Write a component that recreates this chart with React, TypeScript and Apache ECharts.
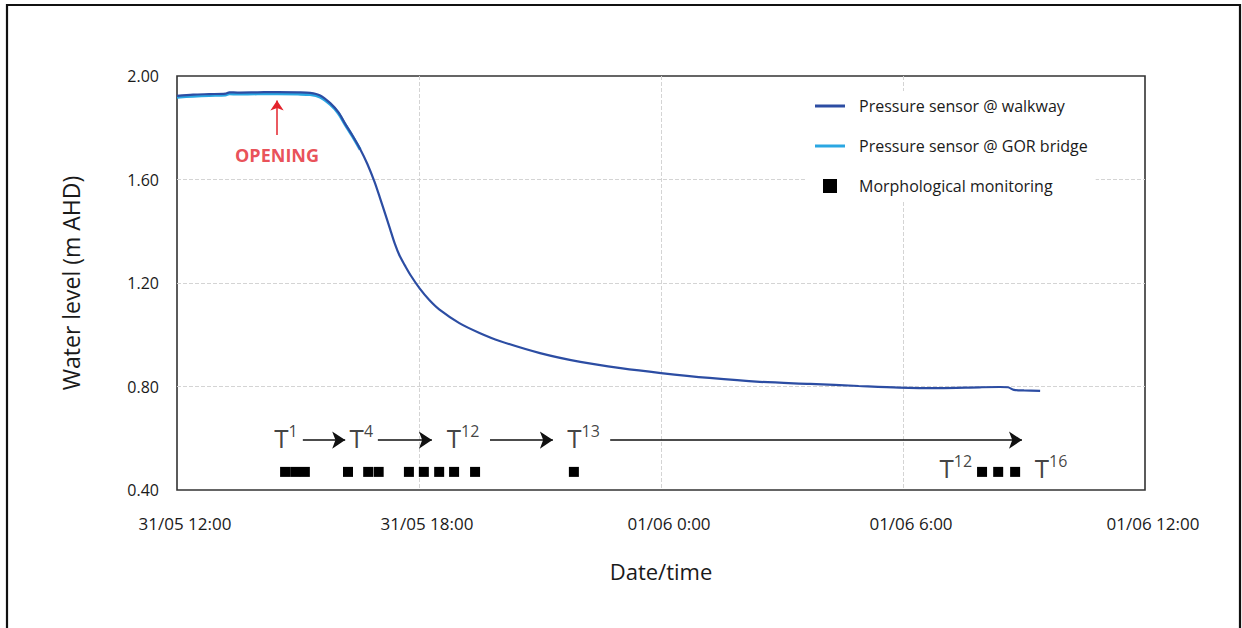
import { useEffect, useRef } from "react";
import * as echarts from "echarts";

// x values are hours after 31/05 12:00
const xTickLabels = ["31/05 12:00", "31/05 18:00", "01/06 0:00", "01/06 6:00", "01/06 12:00"];

const walkTimes = [0, 0.4, 0.8, 1.2, 1.3, 1.5, 2.0, 2.5, 3.0, 3.3, 3.55, 3.8, 4.0, 4.17, 4.35, 4.54, 4.72, 4.9, 5.03, 5.16, 5.28, 5.4, 5.52, 5.65, 5.8, 6.02, 6.25, 6.5, 7.0, 7.5, 8.0, 9.0, 10.0, 11.0, 12.0, 13.2, 14.45, 15.7, 16.9, 17.9, 18.9, 19.9, 20.4, 20.6, 20.75, 21.0, 21.4];
const walkLevels = [1.923, 1.928, 1.93, 1.932, 1.937, 1.936, 1.937, 1.938, 1.937, 1.935, 1.925, 1.895, 1.86, 1.815, 1.77, 1.718, 1.66, 1.59, 1.53, 1.468, 1.41, 1.352, 1.305, 1.268, 1.228, 1.178, 1.135, 1.098, 1.045, 1.007, 0.976, 0.929, 0.895, 0.871, 0.852, 0.833, 0.818, 0.81, 0.802, 0.796, 0.794, 0.797, 0.798, 0.797, 0.787, 0.785, 0.783];

const gorTimes = [0, 0.4, 0.8, 1.2, 1.3, 1.5, 2.0, 2.5, 3.0, 3.3, 3.55, 3.8, 4.0, 4.17, 4.35, 4.54];
const gorLevels = [1.918, 1.922, 1.925, 1.927, 1.931, 1.93, 1.931, 1.931, 1.93, 1.928, 1.918, 1.89, 1.856, 1.812, 1.767, 1.716];

const monitorTimes = [2.68, 2.93, 3.17, 4.24, 4.74, 5.0, 5.75, 6.12, 6.5, 6.87, 7.39, 9.84, 19.96, 20.36, 20.78];
const monitorLevel = 0.47;

const tLabelTimes = [2.7, 4.57, 7.09, 10.08, 19.31, 21.67];
const tLabelLevels = [0.6, 0.6, 0.6, 0.6, 0.485, 0.485];
const tLabelSups = ["1", "4", "12", "13", "12", "16"];

const arrowStarts = [3.12, 4.98, 7.76, 10.74];
const arrowEnds = [4.17, 6.32, 9.32, 20.95];
const arrowLevel = 0.593;

const openingTime = 2.48;
const openingArrowFrom = 1.772;
const openingArrowTo = 1.905;
const openingTextLevel = 1.695;

const FONT = "'Open Sans', 'Noto Sans', sans-serif";

export default function App() {
  const ref = useRef<HTMLDivElement>(null);

  useEffect(() => {
    if (!ref.current) return;
    const chart = echarts.init(ref.current, undefined, { renderer: "svg" });

    const walk = walkTimes.map((t, i) => [t, walkLevels[i]]);
    const gor = gorTimes.map((t, i) => [t, gorLevels[i]]);
    const monitors = monitorTimes.map((t) => [t, monitorLevel]);
    const tLabels = tLabelTimes.map((t, i) => ({ value: [t, tLabelLevels[i]], sup: tLabelSups[i] }));
    const arrows = arrowStarts.map((s, i) => ({ coords: [[s, arrowLevel], [arrowEnds[i], arrowLevel]] }));

    chart.setOption({
      animation: false,
      backgroundColor: "#ffffff",
      textStyle: { fontFamily: FONT },
      graphic: [
        {
          type: "rect",
          shape: { x: 7, y: 5, width: 1233, height: 640 },
          style: { fill: "none", stroke: "#111", lineWidth: 2.2 },
          silent: true,
          z: 100,
        },
      ],
      grid: {
        left: 177,
        right: 97,
        top: 76,
        bottom: 138,
        show: true,
        borderColor: "#333",
        borderWidth: 1.6,
      },
      legend: {
        orient: "vertical",
        left: 807,
        top: 91,
        padding: [7, 8, 7, 8],
        backgroundColor: "#ffffff",
        itemWidth: 30,
        itemHeight: 14,
        itemGap: 24,
        textStyle: { fontSize: 16, color: "#1a1a1a", fontFamily: FONT, padding: [0, 0, 0, 9] },
        data: [
          { name: "Pressure sensor @ walkway", icon: "path://M0 0H10V1H0Z" },
          { name: "Pressure sensor @ GOR bridge", icon: "path://M0 0H10V1H0Z" },
          { name: "Morphological monitoring", icon: "path://M0 0H10V10H0Z", itemStyle: { opacity: 1 } },
        ],
      },
      xAxis: {
        type: "value",
        min: 0,
        max: 24,
        interval: 6,
        name: "Date/time",
        nameLocation: "middle",
        nameGap: 70,
        nameTextStyle: { fontSize: 22, color: "#1a1a1a", fontFamily: FONT },
        axisLine: { show: false },
        axisTick: { show: false },
        axisLabel: {
          margin: 25,
          fontSize: 17,
          color: "#1a1a1a",
          padding: [0, 0, 0, 16],
          formatter: (v: number) => xTickLabels[Math.round(v / 6)] ?? "",
        },
        splitLine: {
          show: true,
          showMinLine: false,
          showMaxLine: false,
          lineStyle: { type: "dashed", color: "#d4d4d4", width: 1 },
        },
      },
      yAxis: {
        type: "value",
        min: 0.4,
        max: 2.0,
        interval: 0.4,
        name: "Water level (m AHD)",
        nameLocation: "middle",
        nameGap: 95,
        nameTextStyle: { fontSize: 23, color: "#1a1a1a", fontFamily: FONT },
        axisLine: { show: false },
        axisTick: { show: false },
        axisLabel: {
          margin: 18,
          fontSize: 16,
          color: "#1a1a1a",
          formatter: (v: number) => v.toFixed(2),
        },
        splitLine: {
          show: true,
          showMinLine: false,
          showMaxLine: false,
          lineStyle: { type: "dashed", color: "#d4d4d4", width: 1 },
        },
      },
      series: [
        {
          name: "Pressure sensor @ GOR bridge",
          type: "line",
          data: gor,
          symbol: "none",
          smooth: 0.3,
          color: "#2aa7e2",
          lineStyle: { color: "#2aa7e2", width: 3 },
          z: 3,
        },
        {
          name: "Pressure sensor @ walkway",
          type: "line",
          data: walk,
          symbol: "none",
          smooth: 0.3,
          color: "#2c4da3",
          lineStyle: { color: "#2c4da3", width: 2.2 },
          z: 4,
        },
        {
          name: "Morphological monitoring",
          type: "scatter",
          data: monitors,
          symbol: "rect",
          symbolSize: 10,
          color: "#000",
          itemStyle: { color: "#000", opacity: 1 },
          z: 5,
        },
        {
          name: "tlabels",
          type: "scatter",
          data: tLabels,
          symbolSize: 0,
          silent: true,
          label: {
            show: true,
            position: "inside",
            formatter: (p: any) => `{t|T}{s|${p.data.sup}}`,
            rich: {
              t: { fontSize: 26, color: "#111", fontFamily: FONT, lineHeight: 30 },
              s: { fontSize: 16, color: "#111", fontFamily: FONT, verticalAlign: "top", lineHeight: 18 },
            },
          },
          z: 6,
        },
        {
          name: "arrows",
          type: "lines",
          coordinateSystem: "cartesian2d",
          data: arrows,
          symbol: ["none", "arrow"],
          symbolSize: [0, 13],
          silent: true,
          lineStyle: { color: "#111", width: 1.6, opacity: 1 },
          z: 6,
        },
        {
          name: "openingArrow",
          type: "lines",
          coordinateSystem: "cartesian2d",
          data: [{ coords: [[openingTime, openingArrowFrom], [openingTime, openingArrowTo]] }],
          symbol: ["none", "arrow"],
          symbolSize: [0, 10],
          silent: true,
          lineStyle: { color: "#e3232c", width: 1.5, opacity: 1 },
          z: 6,
        },
        {
          name: "openingText",
          type: "scatter",
          data: [[openingTime, openingTextLevel]],
          symbolSize: 0,
          silent: true,
          label: {
            show: true,
            position: "inside",
            formatter: "OPENING",
            fontSize: 18,
            fontWeight: "bold",
            color: "#e3232c",
            fontFamily: FONT,
          },
          z: 6,
        },
      ],
    });

    return () => chart.dispose();
  }, []);

  return (
    <div
      ref={ref}
      style={{ position: "absolute", left: 0, top: 0, width: 1242, height: 628 }}
    />
  );
}
